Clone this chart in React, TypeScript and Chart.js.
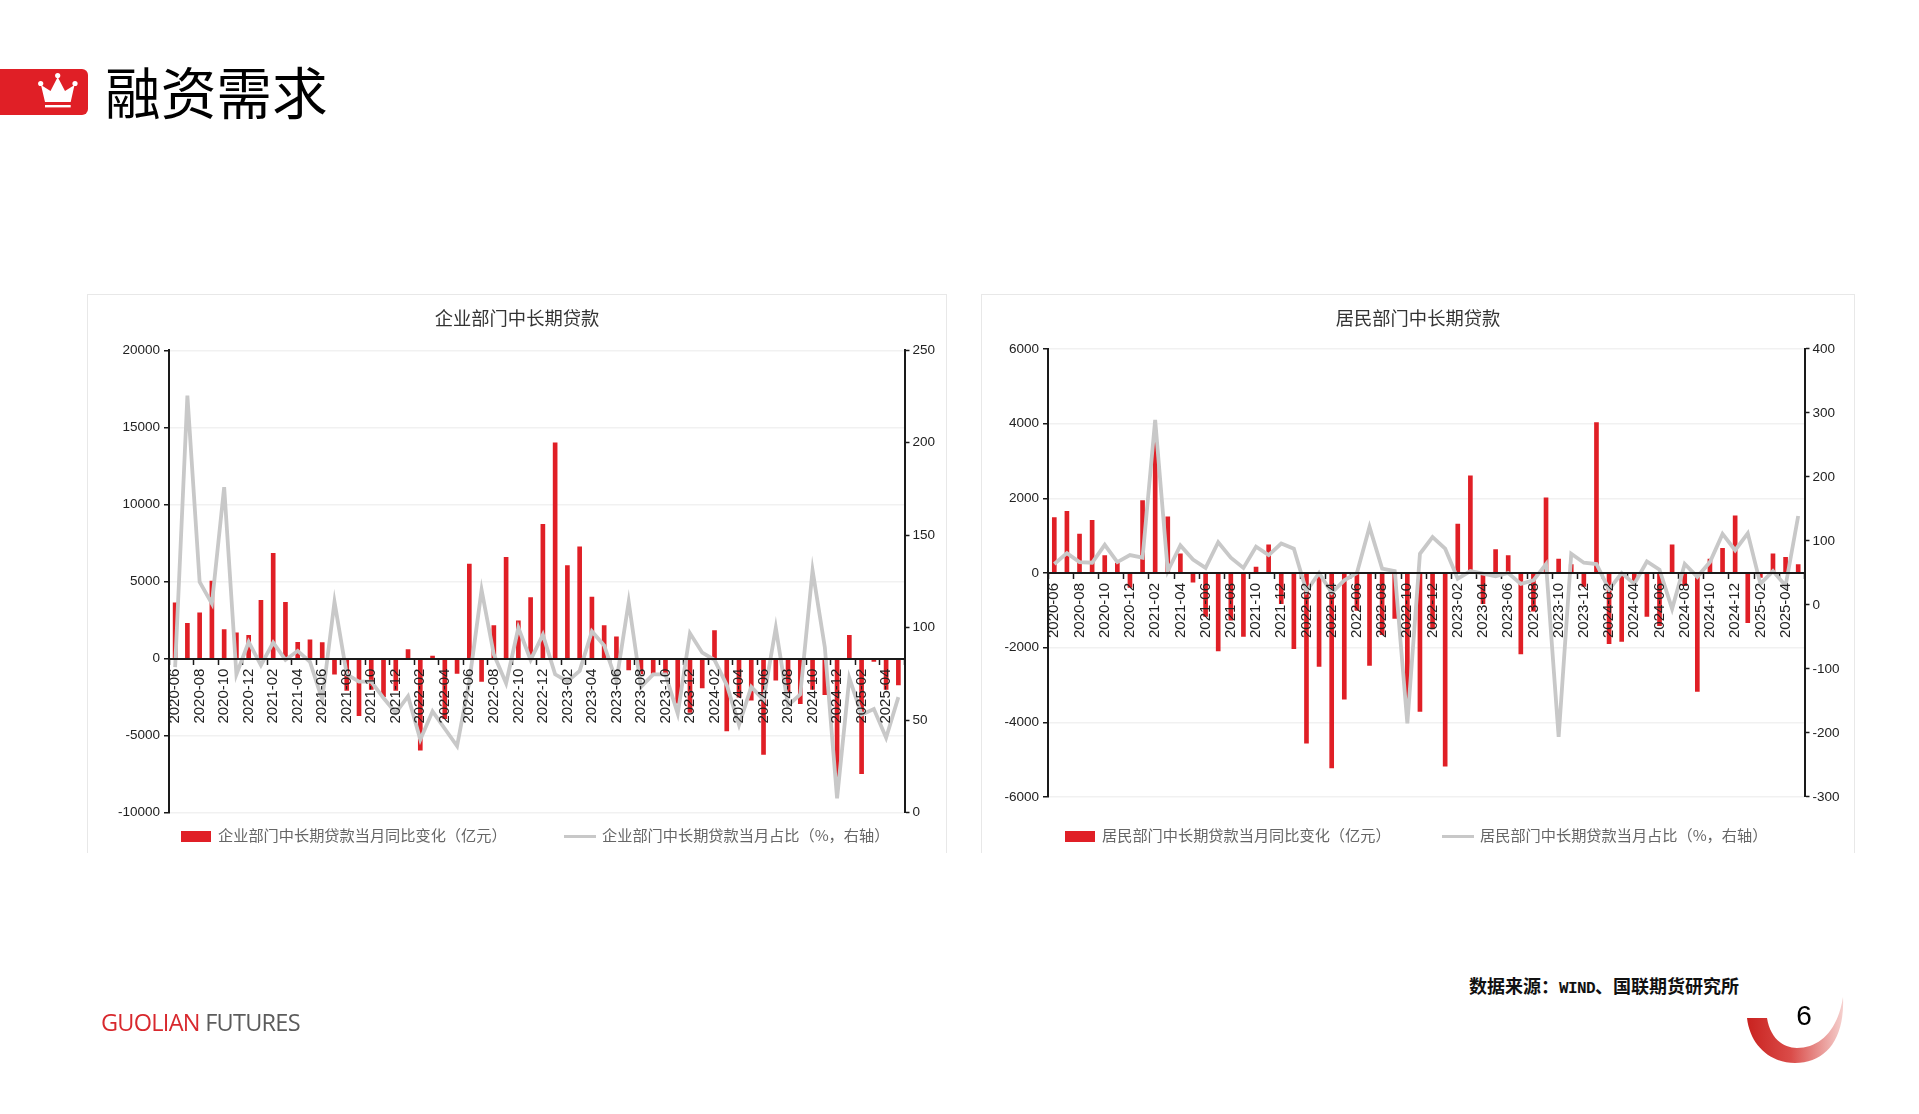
import React, { useRef, useEffect } from 'react';
import Chart from 'chart.js/auto';

const months = [
  '2020-06', '2020-07', '2020-08', '2020-09', '2020-10', '2020-11', '2020-12',
  '2021-01', '2021-02', '2021-03', '2021-04', '2021-05', '2021-06', '2021-07', '2021-08', '2021-09', '2021-10', '2021-11', '2021-12',
  '2022-01', '2022-02', '2022-03', '2022-04', '2022-05', '2022-06', '2022-07', '2022-08', '2022-09', '2022-10', '2022-11', '2022-12',
  '2023-01', '2023-02', '2023-03', '2023-04', '2023-05', '2023-06', '2023-07', '2023-08', '2023-09', '2023-10', '2023-11', '2023-12',
  '2024-01', '2024-02', '2024-03', '2024-04', '2024-05', '2024-06', '2024-07', '2024-08', '2024-09', '2024-10', '2024-11', '2024-12',
  '2025-01', '2025-02', '2025-03', '2025-04', '2025-05',
];

const corpChange = [
  3620, 2280, 2960, 5020, 1880, 1670, 1500,
  3780, 6830, 3640, 1060, 1220, 1030, -1010, -2070, -3710, -2000, -2470, -2070,
  590, -5940, 160, -3900, -960, 6130, -1480, 2140, 6560, 2440, 3950, 8710,
  14000, 6030, 7250, 3990, 2140, 1410, -730, -1000, -960, -1000, -2890, -3500,
  -1900, 1810, -4700, -2500, -2700, -6220, -1410, -2200, -2930, -2000, -2350, -7700,
  1500, -7460, -190, -2000, -1710,
];
const corpShare = [
  78.7, 225.5, 124.7, 113, 176, 74.8, 92.4,
  79.7, 92, 82.6, 87.5, 81.6, 61, 114, 74.8, 70.9, 70.9, 62, 54,
  63, 39.5, 54.8, 45.4, 36, 71, 120.4, 85.5, 70, 100, 82.6, 96.3,
  74.8, 71, 76.7, 98, 90.4, 71, 114, 68, 74.8, 74.8, 53.6, 97,
  86.5, 82.6, 69, 47.4, 68, 61, 100, 58, 64, 131, 89.5, 7.8,
  72.8, 53, 56, 40.5, 62.5,
];

const houseChange = [
  1486, 1650, 1040, 1408, 466, 262, -390,
  1942, 3544, 1505, 515, -243, -1165, -2090, -1262, -1700, 155, 757, -825,
  -2030, -4560, -2505, -5224, -3380, -1000, -2476, -1650, -1214, -3600, -3710, -1500,
  -5175, 1310, 2600, -825, 630, 466, -2165, -1020, 2010, 370, 223, -360,
  4030, -1893, -1835, -243, -1165, -1408, 757, -340, -3175, 370, 660, 1534,
  -1330, -117, 515, 418, 223,
];
const houseShare = [
  64, 81, 67, 66, 94, 67, 78,
  74, 289, 53, 93, 71, 58, 98, 74, 58, 91, 78, 96,
  88, 21.5, 50, 19, 38.5, 50, 122, 57, 53, -185, 80, 106,
  88, 41, 53, 49, 45, 50, 33, 38.5, 64, -206, 80, 66,
  64, 24, 50, 33, 68, 55, -6, 64, 44, 67, 111, 85.5,
  112, 33, 53, 30, 139,
];

const RED = '#e01f26';
const GREY = '#c8c8c8';
const AXIS = '#1a1a1a';
const GRID = '#f1f1f1';
const LATIN = "'Liberation Sans', Arial, sans-serif";
const CJK = "'Noto Sans CJK SC', sans-serif";

interface PanelProps {
  left: number;
  width: number;
  title: string;
  barLabel: string;
  lineLabel: string;
  bars: number[];
  line: number[];
  yMin: number;
  yMax: number;
  yStep: number;
  y1Min: number;
  y1Max: number;
  y1Step: number;
  leftWidth: number;
  rightWidth: number;
  bottomPad: number;
  topGap: number;
  barLeg: [number, number];
  lineLeg: [number, number];
}

const PANEL_TOP = 294;
const PANEL_H = 559;

const LoanPanel: React.FC<PanelProps> = (p) => {
  const ref = useRef<HTMLCanvasElement>(null);

  useEffect(() => {
    if (!ref.current) return;
    const yFont = { family: LATIN, size: 13.5 };
    const chart = new Chart(ref.current, {
      type: 'bar',
      data: {
        labels: months,
        datasets: [
          { type: 'line', label: p.lineLabel, data: p.line, yAxisID: 'y1', borderColor: GREY, borderWidth: 3.8, pointRadius: 0, tension: 0, order: 1 },
          { type: 'bar', label: p.barLabel, data: p.bars, yAxisID: 'y', backgroundColor: RED, barThickness: 4, order: 2 },
        ],
      },
      options: {
        animation: false,
        responsive: true,
        maintainAspectRatio: false,
        layout: { padding: { bottom: p.bottomPad } },
        plugins: {
          legend: { display: false },
          tooltip: { enabled: false },
          title: {
            display: true,
            text: p.title,
            color: '#333',
            font: { family: CJK, size: 18.3, weight: 'normal' },
            padding: { top: 12.5, bottom: p.topGap },
          },
        },
        scales: {
          x: {
            position: { y: 0 } as any,
            offset: true,
            grid: {
              offset: true,
              drawOnChartArea: false,
              tickLength: 5,
              tickWidth: 1.5,
              tickColor: (c: any) => (c.index % 2 ? 'transparent' : AXIS),
            },
            border: { color: AXIS, width: 2, z: 1 },
            ticks: {
              autoSkip: false,
              minRotation: 90,
              maxRotation: 90,
              padding: 5,
              color: '#222',
              font: { family: LATIN, size: 15 },
              z: 1,
              callback: (_v: any, i: number) => (i % 2 ? '' : months[i]),
            },
          },
          y: {
            min: p.yMin,
            max: p.yMax,
            afterFit: (s: any) => { s.width = p.leftWidth; },
            grid: { color: GRID, lineWidth: 1.5, tickColor: AXIS, tickLength: 5, tickWidth: 1.5 },
            border: { color: AXIS, width: 2 },
            ticks: { stepSize: p.yStep, padding: 4, color: '#222', font: yFont, callback: (v: any) => String(v) },
          },
          y1: {
            position: 'right',
            min: p.y1Min,
            max: p.y1Max,
            afterFit: (s: any) => { s.width = p.rightWidth; },
            grid: { drawOnChartArea: false, tickColor: AXIS, tickLength: 5, tickWidth: 1.5 },
            border: { color: AXIS, width: 2 },
            ticks: { stepSize: p.y1Step, padding: 3, color: '#222', font: yFont, callback: (v: any) => String(v) },
          },
        },
      } as any,
    });
    return () => chart.destroy();
  }, []);

  const legendText: React.CSSProperties = {
    position: 'absolute', top: 527, lineHeight: '24px', fontFamily: CJK, fontSize: 15.2, color: '#666', whiteSpace: 'nowrap',
  };

  return (
    <div style={{
      position: 'absolute', left: p.left, top: PANEL_TOP, width: p.width, height: PANEL_H, boxSizing: 'border-box',
      borderTop: '1.5px solid #e8e8e8', borderLeft: '1.5px solid #e8e8e8', borderRight: '1.5px solid #e8e8e8',
    }}>
      <canvas ref={ref} style={{ position: 'absolute', left: 0, top: 0 }}></canvas>
      <div style={{ position: 'absolute', left: p.barLeg[0], top: 535.5, width: 30.5, height: 11, background: RED }}></div>
      <div style={{ ...legendText, left: p.barLeg[1] }}>{p.barLabel}</div>
      <div style={{ position: 'absolute', left: p.lineLeg[0], top: 539.5, width: 32, height: 3.5, background: GREY }}></div>
      <div style={{ ...legendText, left: p.lineLeg[1] }}>{p.lineLabel}</div>
    </div>
  );
};

const Crown = () => (
  <svg width="88" height="46" style={{ position: 'absolute', left: 0, top: 69 }} viewBox="0 69 88 46">
    <path d="M0 69H82a6 6 0 0 1 6 6v34a6 6 0 0 1 -6 6H0Z" fill="#e01f26" />
    <g fill="#fff">
      <path d="M45 102 L41 85 L50.5 91 L57.7 77 L65 91 L74.5 85 L70.7 102 Z" />
      <circle cx="40.7" cy="83.5" r="2.6" />
      <circle cx="57.7" cy="75.5" r="2.6" />
      <circle cx="75" cy="83.5" r="2.6" />
      <rect x="45" y="105" width="25.7" height="2.4" />
    </g>
  </svg>
);

const Swoosh = () => (
  <svg width="1919" height="1114" style={{ position: 'absolute', left: 0, top: 0, pointerEvents: 'none' }}>
    <defs>
      <linearGradient id="sw" x1="1747" y1="0" x2="1845" y2="0" gradientUnits="userSpaceOnUse">
        <stop offset="0" stopColor="#c9221f" />
        <stop offset="0.45" stopColor="#da4c49" />
        <stop offset="0.7" stopColor="#e68a87" />
        <stop offset="1" stopColor="#f6d5d3" />
      </linearGradient>
    </defs>
    <path d="M1747 1018 C1750 1045 1770 1063 1795 1063 C1825 1063 1845 1040 1843 997 C1838 1030 1820 1048 1797 1048 C1782 1048 1770 1037 1767 1018 Z" fill="url(#sw)" />
  </svg>
);

export default function App() {
  return (
    <div style={{ position: 'relative', width: 1919, height: 1114, overflow: 'hidden', background: '#fff' }}>
      <style>{'html,body{margin:0;padding:0;background:#fff}'}</style>
      <Crown />
      <div style={{ position: 'absolute', left: 105, top: 51.5, lineHeight: '76px', fontFamily: CJK, fontSize: 55.7, color: '#000' }}>融资需求</div>

      <LoanPanel
        left={87} width={860}
        title="企业部门中长期贷款"
        barLabel="企业部门中长期贷款当月同比变化（亿元）"
        lineLabel="企业部门中长期贷款当月占比（%，右轴）"
        bars={corpChange} line={corpShare}
        yMin={-10000} yMax={20000} yStep={5000}
        y1Min={0} y1Max={250} y1Step={50}
        leftWidth={81} rightWidth={41.5}
        bottomPad={40.3} topGap={20.8}
        barLeg={[92.5, 130]} lineLeg={[475.5, 514]}
      />
      <LoanPanel
        left={981} width={874}
        title="居民部门中长期贷款"
        barLabel="居民部门中长期贷款当月同比变化（亿元）"
        lineLabel="居民部门中长期贷款当月占比（%，右轴）"
        bars={houseChange} line={houseShare}
        yMin={-6000} yMax={6000} yStep={2000}
        y1Min={-300} y1Max={400} y1Step={100}
        leftWidth={66} rightWidth={49.5}
        bottomPad={56} topGap={19.5}
        barLeg={[82.5, 120]} lineLeg={[460, 498]}
      />

      <div style={{ position: 'absolute', left: 1469, top: 973, lineHeight: '24px', fontFamily: CJK, fontWeight: 700, fontSize: 18, color: '#111', whiteSpace: 'nowrap' }}>
        数据来源：<span style={{ fontFamily: "'Liberation Mono', monospace", fontSize: 16, letterSpacing: -0.6 }}>WIND</span>、国联期货研究所
      </div>
      <Swoosh />
      <div style={{ position: 'absolute', left: 1788, top: 1000, width: 32, textAlign: 'center', lineHeight: '32px', fontFamily: LATIN, fontSize: 28, color: '#000' }}>6</div>
      <div style={{ position: 'absolute', left: 101, top: 1006, lineHeight: '32px', fontFamily: "'Open Sans', sans-serif", fontSize: 23.5, letterSpacing: -0.73, whiteSpace: 'nowrap' }}>
        <span style={{ color: '#d8282d' }}>GUOLIAN</span> <span style={{ color: '#5c5c5c' }}>FUTURES</span>
      </div>
    </div>
  );
}
